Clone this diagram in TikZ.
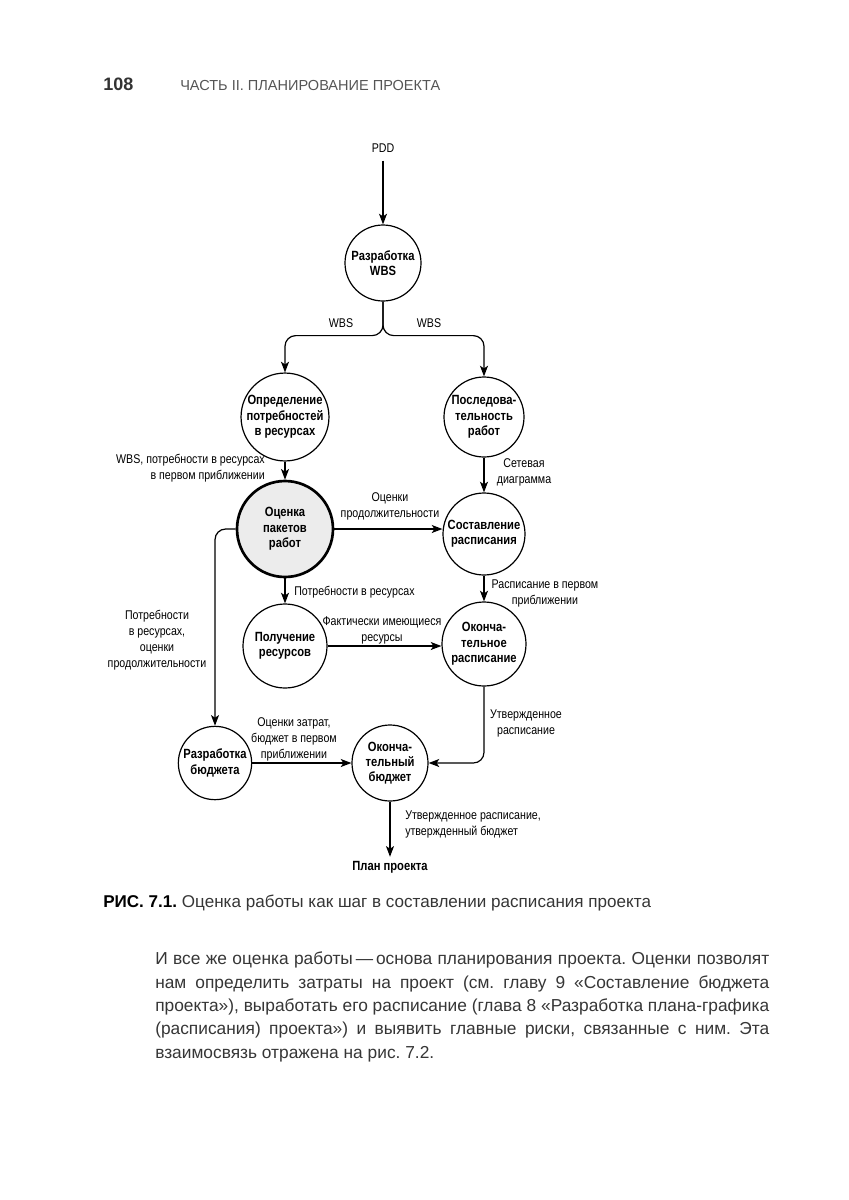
\documentclass[tikz,border=0pt]{standalone}
\usepackage{fontspec}
\setmainfont{Liberation Sans}
\newfontfamily\diagfont[FakeStretch=0.84]{Liberation Sans}
\usetikzlibrary{arrows.meta}
\definecolor{headgray}{HTML}{555555}
\definecolor{textgray}{HTML}{363636}
\definecolor{estfill}{HTML}{ECECEC}
\frenchspacing

\begin{document}
\begin{tikzpicture}[x=0.75pt,y=-0.75pt,>={Stealth[length=8pt,width=6pt,inset=2pt]}]

  \tikzstyle{place}=[circle,draw=black,line width=0.9pt,inner sep=0pt,minimum size=58pt,align=center,font=\diagfont\bfseries\fontsize{10}{11.5}\selectfont]
  \tikzstyle{main place}=[place,line width=2pt,fill=estfill,minimum size=72pt]
  \tikzstyle{flow}=[->,line width=0.9pt]
  \tikzstyle{tag}=[inner sep=0pt,align=center,font=\diagfont\fontsize{9.5}{12}\selectfont]
  \tikzstyle{pagetext}=[inner sep=0pt,anchor=base west]

  \fill[white] (0,0) rectangle (849,1200);

  \node[pagetext,font=\bfseries\fontsize{13.5}{16}\selectfont,text=black!80] (pagenum) at (103,90) {108};
  \node[pagetext,font=\fontsize{10.9}{14}\selectfont,text=headgray] (runhead) at (180,90) {ЧАСТЬ II. ПЛАНИРОВАНИЕ ПРОЕКТА};

  \path (383,148) node[tag]                        (pdd)       {PDD}
        (383,263) node[place,minimum size=57pt]    (wbs)       {Разработка\\WBS}
        (285,417) node[place,minimum size=60pt]    (resreq)    {Определение\\потребностей\\в ресурсах}
        (484,417) node[place,minimum size=60pt]    (seq)       {Последова-\\тельность\\работ}
        (285,529) node[main place]                 (est)       {Оценка\\пакетов\\работ}
        (484,534) node[place,minimum size=61.5pt]  (sched)     {Составление\\расписания}
        (285,646) node[place,minimum size=63pt]    (resget)    {Получение\\ресурсов}
        (484,644) node[place,minimum size=63pt]    (finsched)  {Оконча-\\тельное\\расписание}
        (215,763) node[place,minimum size=55pt]    (budget)    {Разработка\\бюджета}
        (390,763) node[place,minimum size=57pt]    (finbudget) {Оконча-\\тельный\\бюджет}
        (390,867) node[tag,font=\diagfont\bfseries\fontsize{10}{12}\selectfont] (plan) {План проекта};

  \draw[flow,shorten <=6pt] (pdd) -- (wbs);
  \draw[flow,rounded corners=8pt] (wbs.south) -- ++(0,34) -| (resreq.north);
  \draw[flow,rounded corners=8pt] (wbs.south) -- ++(0,34) -| (seq.north);
  \draw[flow] (resreq) -- (est);
  \draw[flow] (seq) -- (sched);
  \draw[flow] (est.east) -- (est.east -| sched.west);
  \draw[flow] (est) -- (resget);
  \draw[flow] (sched) -- (finsched);
  \draw[flow] (resget.east) -- (resget.east -| finsched.west);
  \draw[flow,rounded corners=8pt] (est.west) -| (budget.north);
  \draw[flow] (budget) -- (finbudget);
  \draw[flow,rounded corners=8pt] (finsched.south) |- (finbudget.east);
  \draw[flow,shorten >=3pt] (finbudget) -- (plan);

  \node[tag] (wbsleft)  at (341,323) {WBS};
  \node[tag] (wbsright) at (429,323) {WBS};
  \node[tag,align=right,anchor=east] (reqlabel) at (265,468) {WBS, потребности в ресурсах\\в первом приближении};
  \node[tag] (netlabel)   at (524,472) {Сетевая\\диаграмма};
  \node[tag] (durlabel)   at (390,506) {Оценки\\продолжительности};
  \node[tag,anchor=west] (needlabel) at (294,592) {Потребности в ресурсах};
  \node[tag] (draftlabel) at (545,593) {Расписание в первом\\приближении};
  \node[tag] (havelabel)  at (382,630) {Фактически имеющиеся\\ресурсы};
  \node[tag] (looplabel)  at (157,640) {Потребности\\в ресурсах,\\оценки\\продолжительности};
  \node[tag] (oklabel)    at (526,723) {Утвержденное\\расписание};
  \node[tag] (costlabel)  at (294,739) {Оценки затрат,\\бюджет в первом\\приближении};
  \node[tag,align=left,anchor=west] (finallabel) at (405,824) {Утвержденное расписание,\\утвержденный бюджет};

  \node[pagetext,font=\fontsize{12.8}{15}\selectfont,text=textgray] (caption) at (103,907)
    {{\color{black}\bfseries РИС. 7.1.} Оценка работы как шаг в составлении расписания проекта};

  \node[inner sep=0pt,anchor=north west,align=left,text=textgray,font=\fontsize{13}{17.5}\selectfont] (body) at (155,952)
    {\makebox[460.5pt][s]{И все же оценка работы\,—\,основа планирования проекта. Оценки позволят}\\
     \makebox[460.5pt][s]{нам определить затраты на проект (см. главу 9 «Составление бюджета}\\
     \makebox[460.5pt][s]{проекта»), выработать его расписание (глава 8 «Разработка плана-графика}\\
     \makebox[460.5pt][s]{(расписания) проекта») и выявить главные риски, связанные с ним. Эта}\\
     взаимосвязь отражена на рис. 7.2.};

\end{tikzpicture}
\end{document}
